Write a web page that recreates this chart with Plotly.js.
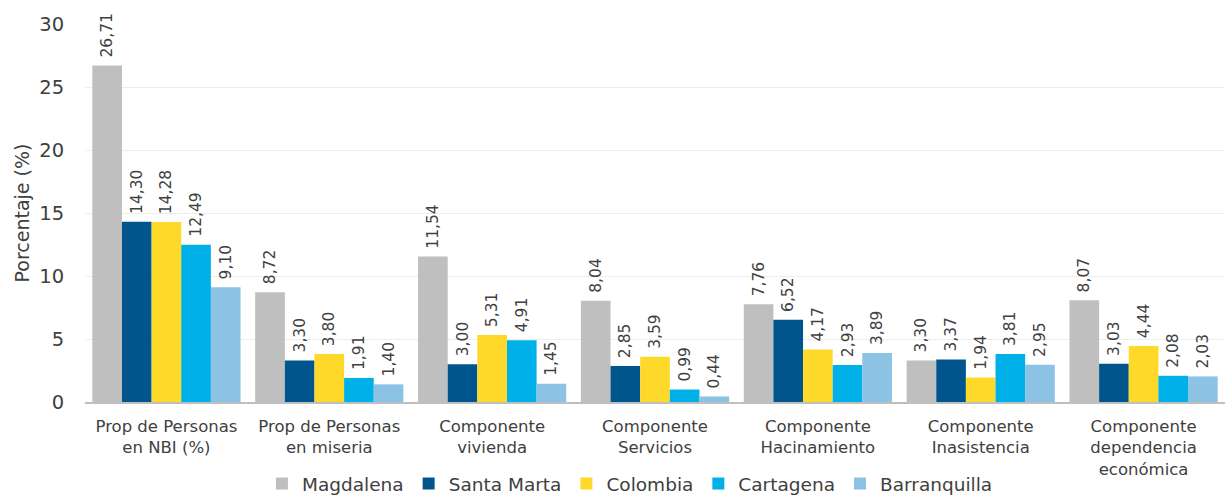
<!DOCTYPE html>
<html><head><meta charset="utf-8">
<script src="https://cdn.plot.ly/plotly-3.0.1.min.js"></script>
<style>body{margin:0;background:#fff}#c{width:1225px;height:503px}</style>
</head><body><div id="c"></div>
<script>
const categories = ["Prop de Personas<br>en NBI (%)", "Prop de Personas<br>en miseria", "Componente<br>vivienda", "Componente<br>Servicios", "Componente<br>Hacinamiento", "Componente<br>Inasistencia", "Componente<br>dependencia<br>económica"];
const magdalena = [26.71, 8.72, 11.54, 8.04, 7.76, 3.30, 8.07];
const santaMarta = [14.30, 3.30, 3.00, 2.85, 6.52, 3.37, 3.03];
const colombia = [14.28, 3.80, 5.31, 3.59, 4.17, 1.94, 4.44];
const cartagena = [12.49, 1.91, 4.91, 0.99, 2.93, 3.81, 2.08];
const barranquilla = [9.10, 1.40, 1.45, 0.44, 3.89, 2.95, 2.03];
const seriesNames = ["Magdalena", "Santa Marta", "Colombia", "Cartagena", "Barranquilla"];
const colors = ["#BFBFBF", "#00568C", "#FFD92A", "#00B0E8", "#8CC2E3"];
const allSeries = [magdalena, santaMarta, colombia, cartagena, barranquilla];
const FONT = "DejaVu Sans, Verdana, sans-serif";
const traces = allSeries.map((vals, i) => ({
  type: "bar", name: seriesNames[i], x: categories, y: vals,
  marker: {color: colors[i]},
  texttemplate: "\u00a0%{y:.2f}", textposition: "outside", textangle: -90,
  constraintext: "none",
  textfont: {family: FONT, size: 15.5, color: "#404040"},
  cliponaxis: false
}));
const layout = {
  width: 1225, height: 503,
  margin: {l: 85, r: 0, t: 24, b: 101, autoexpand: false},
  separators: ",.",
  barmode: "group", bargap: 0.09, bargroupgap: 0,
  plot_bgcolor: "#fff", paper_bgcolor: "#fff",
  font: {family: FONT, color: "#404040"},
  xaxis: {tickfont: {family: FONT, size: 16.5, color: "#404040"}, showline: true, linecolor: "#BFBFBF", linewidth: 2, ticks: "", showgrid: false, fixedrange: true, ticklabelstandoff: 8, automargin: false},
  yaxis: {range: [0, 30], dtick: 5, gridcolor: "#EDEDED", gridwidth: 1, zeroline: false, showline: false, automargin: false,
    tickfont: {family: FONT, size: 19.5, color: "#404040"}, ticks: "outside", tickcolor: "rgba(0,0,0,0)", ticklen: 16,
    title: {text: "Porcentaje (%)", font: {family: FONT, size: 19, color: "#404040"}, standoff: 4}},
  legend: {orientation: "h", x: 0.478, xanchor: "center", yref: "container", y: -0.014, yanchor: "bottom",
    font: {family: FONT, size: 18.5, color: "#404040"}, itemwidth: 30, traceorder: "normal"},
  showlegend: true
};
Plotly.newPlot("c", traces, layout, {displayModeBar: false, staticPlot: true});
</script></body></html>
